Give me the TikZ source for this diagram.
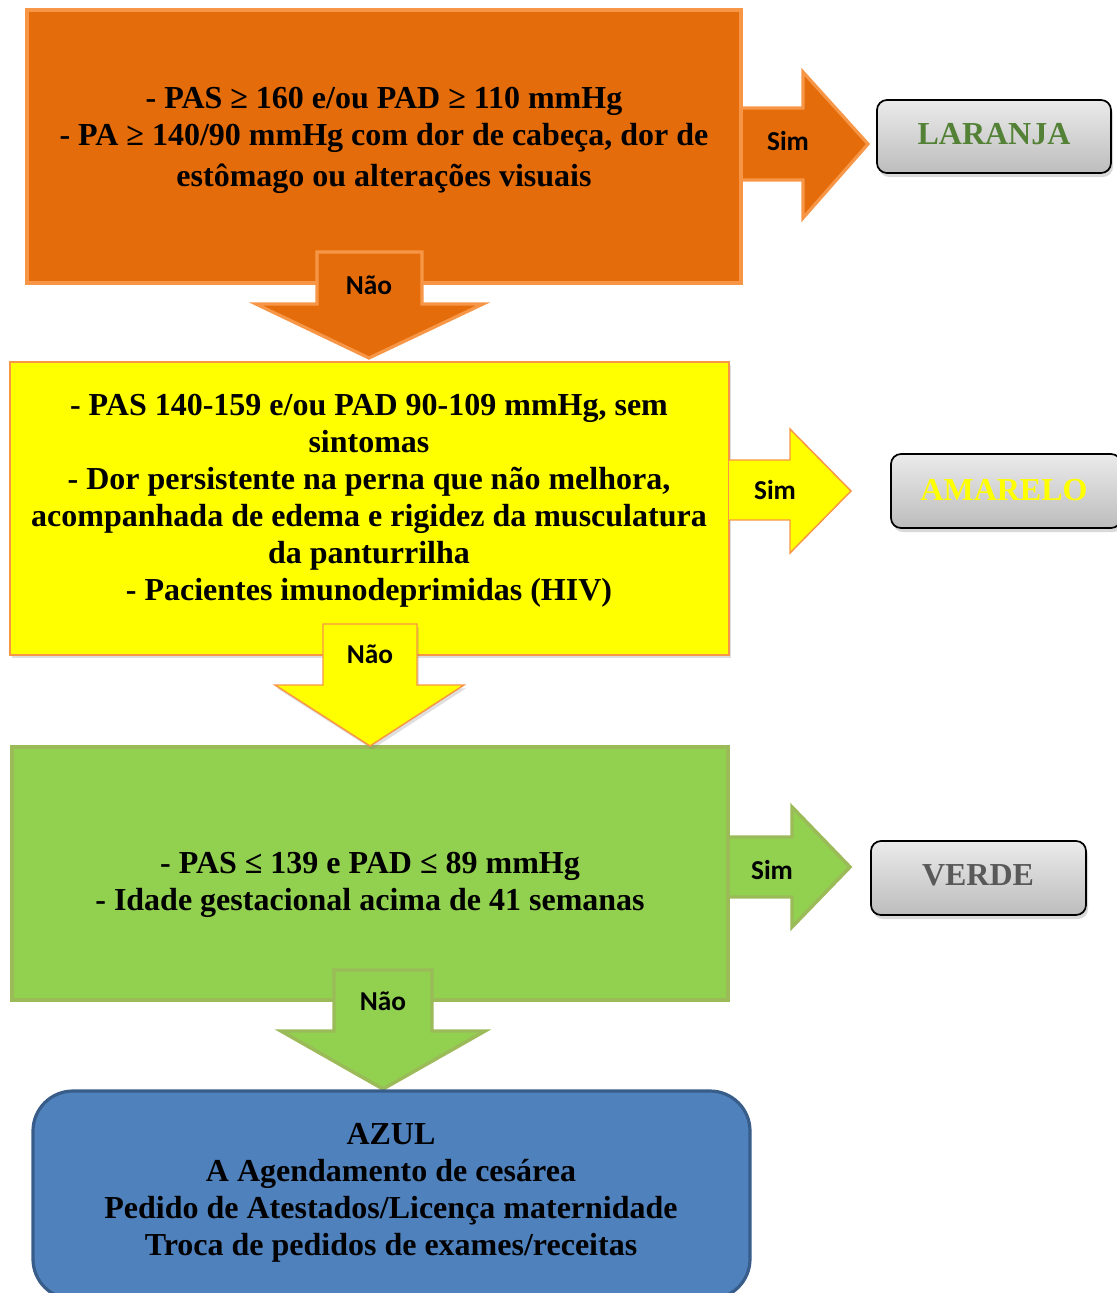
\documentclass[tikz,border=0pt]{standalone}
\usepackage{fontspec}
\setmainfont{Liberation Serif}
\newfontfamily\calib{Carlito}
\usetikzlibrary{shadows}
\definecolor{orfill}{HTML}{E46C0A}
\definecolor{orline}{HTML}{F79646}
\definecolor{yefill}{HTML}{FFFF00}
\definecolor{grfill}{HTML}{92D050}
\definecolor{grline}{HTML}{9BBB59}
\definecolor{blfill}{HTML}{4F81BD}
\definecolor{blline}{HTML}{385D8A}
\definecolor{lagreen}{HTML}{538135}
\definecolor{vegray}{HTML}{595959}
\begin{document}
\begin{tikzpicture}[x=0.75pt,y=-0.75pt,
  body/.style={font=\fontsize{24}{27.75}\selectfont\bfseries, align=center, inner sep=0pt},
  tag/.style={font=\calib\fontsize{20.5}{22}\selectfont\bfseries, inner sep=0pt},
  orstyle/.style={fill=orfill, draw=orline, line width=2.4pt, line join=miter},
  yestyle/.style={fill=yefill, draw=orline, line width=1.1pt, line join=miter},
  grstyle/.style={fill=grfill, draw=grline, line width=2.6pt, line join=miter},
  softshadow/.style={drop shadow={opacity=0.25, shadow xshift=1.5pt, shadow yshift=-2.5pt}},
  result/.style={draw=black, line width=1.3pt, rounded corners=7.5pt,
    top color=black!8, bottom color=black!26,
    drop shadow={opacity=0.3, shadow xshift=1.5pt, shadow yshift=-3pt}},
  resulttext/.style={font=\fontsize{24}{28}\selectfont\bfseries, inner sep=0pt}]
\useasboundingbox (0,0) rectangle (1117,1293);

% ---------- orange stage ----------
\path[orstyle] (741,108) -- (803,108) -- (803,72) -- (868,144) -- (803,218) -- (803,180) -- (741,180);
\path[orstyle] (27,10) rectangle (741,283);
\node[body] (qorange) at (384,140) {- PAS ≥ 160 e/ou PAD ≥ 110 mmHg\\
  - PA ≥ 140/90 mmHg com dor de cabeça, dor de\\[3pt]
  estômago ou alterações visuais};
\node[tag] (simorange) at (788,141) {Sim};
\path[result] (877,100) rectangle (1111,173);
\node[resulttext, text=lagreen] (laranja) at (994,134) {LARANJA};

% ---------- yellow stage ----------
\path[yestyle, softshadow] (10,362) rectangle (729,655);
\path[orstyle] (317,252) -- (317,304) -- (256,304) -- (369,358) -- (483,304) -- (422,304) -- (422,252) -- cycle;
\node[tag] (naoorange) at (369,285) {Não};
\node[body] (qyellow) at (369,501) {- PAS 140-159 e/ou PAD 90-109 mmHg, sem\\
  sintomas\\
  - Dor persistente na perna que não melhora,\\
  acompanhada de edema e rigidez da musculatura\\
  da panturrilha\\
  - Pacientes imunodeprimidas (HIV)};
\path[yestyle] (729,460) -- (790,460) -- (790,429) -- (851,491) -- (790,553) -- (790,520) -- (729,520);
\node[tag] (simyellow) at (775,490) {Sim};
\path[result] (891,454) rectangle (1121,528);
\node[resulttext, text=yefill] (amarelo) at (1004,490) {AMARELO};

% ---------- green stage ----------
\path[grstyle] (728,837) -- (792,837) -- (792,807) -- (850,867) -- (792,927) -- (792,897) -- (728,897);
\path[grstyle] (12,747) rectangle (728,1000);
\path[yestyle, softshadow] (323,624) -- (323,685) -- (275,685) -- (370,746) -- (464,685) -- (417,685) -- (417,624) -- cycle;
\node[tag] (naoyellow) at (370,654) {Não};
\node[body] (qgreen) at (370,885) {- PAS ≤ 139 e PAD ≤ 89 mmHg\\
  - Idade gestacional acima de 41 semanas};
\node[tag] (simgreen) at (772,870) {Sim};
\path[result] (871,841) rectangle (1086,915);
\node[resulttext, text=vegray] (verde) at (978,875) {VERDE};

% ---------- blue stage ----------
\path[grstyle] (334,970) -- (334,1031) -- (281,1031) -- (383,1089) -- (485,1031) -- (432,1031) -- (432,970) -- cycle;
\node[tag] (naogreen) at (383,1001) {Não};
\path[fill=blfill, draw=blline, line width=2.4pt, rounded corners=30pt] (33,1091) rectangle (750,1299);
\node[body] (azul) at (391,1193) {AZUL\\
  A Agendamento de cesárea\\
  Pedido de Atestados/Licença maternidade\\
  Troca de pedidos de exames/receitas};
\end{tikzpicture}
\end{document}
